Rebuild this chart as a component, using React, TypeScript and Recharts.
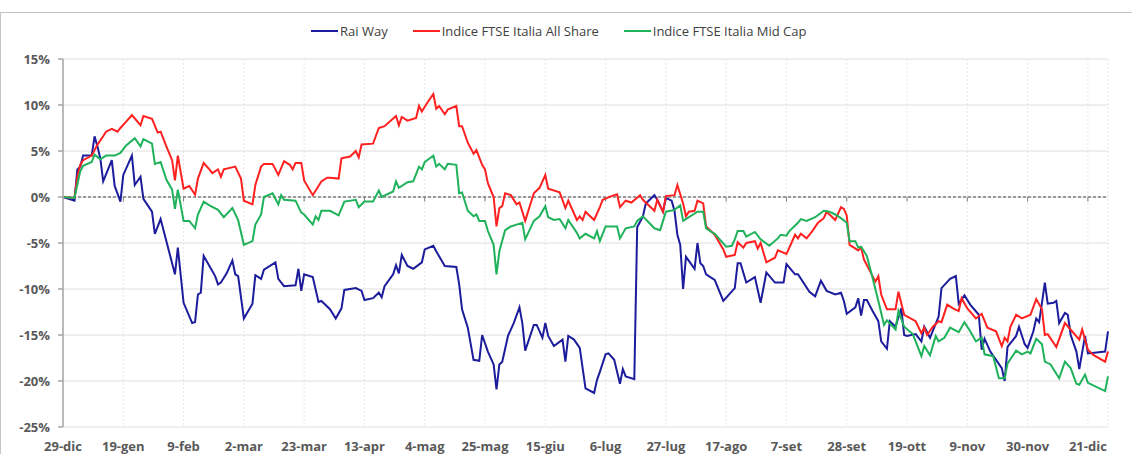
import { CartesianGrid, Line, LineChart, ReferenceLine, XAxis, YAxis } from "recharts";

// giorni dal 29-dic-2021, variazione % dal 29-dic
const xTickDays = [0, 21, 42, 63, 84, 105, 126, 147, 168, 189, 210, 231, 252, 273, 294, 315, 336, 357];
const xTickLabels = [
  "29-dic", "19-gen", "9-feb", "2-mar", "23-mar", "13-apr", "4-mag", "25-mag", "15-giu",
  "6-lug", "27-lug", "17-ago", "7-set", "28-set", "19-ott", "9-nov", "30-nov", "21-dic",
];
const yTicks = [-25, -20, -15, -10, -5, 0, 5, 10, 15];

const raiWay: [number, number][] = [
  [0, 0], [4, -0.4], [5, 3.0], [6, 3.3], [7, 4.5], [10, 4.5], [11, 6.6], [12, 5.5], [13, 4.2], [14, 1.7],
  [17, 4.0], [18, 1.2], [20, -0.5], [21, 2.4], [24, 4.5], [25, 1.3], [27, 2.2], [28, -0.2], [31, -1.6],
  [32, -4.0], [34, -2.4], [39, -8.4], [40, -5.5], [42, -11.5], [45, -13.7], [46, -13.6], [47, -10.6],
  [48, -10.4], [49, -6.4], [51, -7.5], [53, -8.6], [54, -9.5], [55, -9.3], [57, -8.3], [59, -6.9],
  [60, -8.4], [61, -8.6], [63, -13.2], [66, -11.6], [67, -8.5], [69, -8.9], [70, -7.9], [74, -7.1],
  [75, -8.9], [77, -9.7], [81, -9.6], [82, -7.8], [83, -10.2], [84, -8.4], [87, -8.7], [89, -11.4],
  [90, -11.3], [93, -12.2], [95, -13.2], [97, -12.1], [98, -10.1], [102, -9.9], [104, -10.2],
  [105, -11.2], [108, -11.0], [110, -10.4], [111, -10.9], [112, -9.7], [115, -8.4], [116, -7.4],
  [117, -8.3], [118, -6.3], [120, -7.5], [122, -7.8], [125, -7.1], [126, -5.7], [129, -5.3],
  [130, -5.9], [133, -7.5], [137, -7.6], [138, -9.5], [139, -12.2], [141, -14.2], [143, -17.7],
  [145, -17.8], [146, -15.0], [148, -16.8], [150, -18.2], [151, -20.9], [152, -18.2], [153, -17.9],
  [155, -15.1], [157, -13.7], [159, -12.0], [160, -13.7], [161, -16.7], [164, -13.9], [165, -13.9],
  [167, -15.3], [168, -13.7], [169, -15.1], [171, -16.2], [174, -15.5], [175, -17.9], [176, -15.1],
  [178, -15.5], [180, -16.4], [182, -20.8], [185, -21.3], [186, -19.9], [187, -19.0], [189, -17.1],
  [190, -17.0], [192, -17.7], [194, -20.3], [195, -18.7], [196, -19.5], [199, -19.8], [200, -3.3],
  [202, -2.1], [203, -0.7], [206, 0.2], [207, -0.3], [209, -1.6], [210, -0.1], [212, -0.4],
  [213, -1.5], [214, -4.1], [215, -5.2], [216, -10.0], [217, -6.5], [220, -7.8], [221, -5.0],
  [222, -7.2], [223, -7.5], [224, -8.4], [227, -9.0], [230, -11.3], [234, -9.9], [235, -7.2],
  [236, -7.2], [238, -9.3], [241, -8.7], [243, -11.5], [245, -8.2], [248, -9.3], [251, -9.3],
  [252, -7.3], [255, -8.4], [256, -8.4], [260, -10.3], [262, -10.8], [264, -9.1], [266, -10.2],
  [269, -10.6], [271, -10.4], [272, -11.3], [273, -12.7], [276, -12.0], [277, -11.0], [278, -12.9],
  [279, -11.2], [280, -11.2], [282, -12.4], [284, -13.5], [285, -15.7], [287, -16.5], [288, -13.5],
  [290, -14.1], [292, -12.1], [293, -15.0], [294, -15.1], [297, -14.9], [299, -15.7], [300, -14.1],
  [302, -15.3], [305, -13.0], [306, -9.9], [309, -8.9], [311, -8.6], [312, -11.6], [314, -10.7],
  [316, -11.7], [319, -12.8], [320, -16.6], [321, -15.4], [323, -16.8], [325, -17.7], [327, -18.6],
  [328, -20.0], [329, -16.3], [331, -15.5], [332, -15.1], [333, -14.1], [335, -16.0], [336, -16.4],
  [338, -14.6], [339, -13.2], [340, -13.6], [341, -11.5], [342, -9.3], [343, -11.6], [345, -11.5],
  [346, -11.3], [347, -13.7], [349, -12.6], [350, -12.8], [351, -15.0], [353, -16.8], [354, -18.7],
  [356, -15.1], [357, -17.0], [363, -16.8], [364, -14.6],
];

const ftseAllShare: [number, number][] = [
  [0, 0], [4, -0.1], [5, 2.2], [6, 3.5], [7, 4.0], [10, 4.5], [12, 5.7], [14, 6.6], [15, 7.1], [17, 7.4],
  [19, 7.1], [20, 7.5], [22, 8.2], [24, 8.9], [27, 7.8], [28, 8.8], [31, 8.5], [33, 7.0], [34, 7.1],
  [36, 5.5], [38, 4.0], [39, 1.8], [40, 4.5], [42, 0.9], [44, 1.2], [46, 0.25], [47, 2.0], [49, 3.7],
  [51, 3.0], [52, 2.6], [54, 3.0], [55, 2.2], [56, 3.0], [60, 3.3], [62, 2.0], [63, -0.4], [66, -0.8],
  [67, 1.3], [69, 3.3], [70, 3.6], [73, 3.6], [75, 2.4], [77, 3.9], [79, 3.5], [80, 3.0], [81, 3.7],
  [83, 3.7], [84, 1.8], [87, 0.2], [90, 1.7], [92, 2.1], [93, 2.1], [96, 2.0], [97, 4.2], [100, 4.4],
  [102, 5.0], [103, 4.3], [104, 5.7], [108, 5.8], [110, 7.5], [112, 7.7], [116, 8.8], [117, 7.8],
  [118, 8.7], [120, 8.3], [123, 8.6], [124, 9.9], [125, 9.3], [127, 10.3], [129, 11.2], [130, 9.6],
  [131, 9.9], [133, 9.0], [134, 9.5], [137, 9.9], [138, 7.7], [139, 7.7], [141, 5.9], [143, 4.7],
  [144, 5.1], [146, 3.5], [147, 3.0], [148, 1.5], [150, 0.0], [151, -3.2], [152, -1.2], [153, -1.0],
  [154, 0.4], [156, 0.2], [158, -0.8], [159, -0.6], [161, -2.6], [164, 0.4], [166, 1.0], [168, 2.4],
  [169, 0.9], [173, 0.5], [175, -1.2], [176, -0.4], [179, -2.5], [180, -2.1], [181, -2.5], [182, -1.6],
  [185, -2.5], [187, -1.1], [188, -0.3], [191, 0.1], [193, 0.3], [194, -1.1], [196, -0.4], [198, -0.6],
  [201, 0.2], [202, -0.3], [206, -1.5], [207, -0.3], [209, -1.6], [210, 0.1], [213, 0.2], [214, 1.3],
  [216, -0.7], [217, -2.1], [218, -1.6], [220, -1.5], [221, -0.4], [223, -0.7], [224, -3.2],
  [227, -4.1], [230, -5.7], [231, -6.5], [234, -6.3], [235, -4.9], [237, -5.5], [238, -5.0],
  [241, -4.8], [242, -5.6], [243, -5.0], [245, -7.1], [248, -6.6], [249, -5.8], [252, -6.2],
  [255, -4.1], [256, -4.5], [257, -4.0], [259, -4.5], [261, -3.7], [263, -2.8], [265, -2.3],
  [266, -1.6], [268, -2.2], [269, -2.5], [271, -1.1], [272, -1.3], [273, -2.0], [274, -5.2],
  [277, -5.8], [278, -5.5], [279, -6.8], [281, -8.0], [283, -9.2], [284, -8.6], [285, -10.6],
  [287, -12.2], [290, -12.2], [291, -10.3], [293, -12.8], [297, -13.5], [299, -14.8], [300, -14.2],
  [301, -15.0], [303, -14.1], [305, -13.5], [306, -13.6], [308, -11.7], [310, -12.1], [312, -12.4],
  [313, -11.0], [315, -12.1], [318, -13.2], [320, -12.7], [322, -14.2], [325, -14.6], [327, -16.2],
  [328, -15.3], [329, -15.7], [330, -14.1], [332, -12.8], [334, -13.2], [337, -12.8], [339, -11.1],
  [341, -12.2], [342, -15.0], [343, -14.9], [346, -16.3], [349, -13.7], [354, -15.5], [355, -14.4],
  [357, -16.6], [359, -17.2], [363, -17.9], [364, -16.8],
];

const ftseMidCap: [number, number][] = [
  [0, 0], [4, -0.1], [6, 2.8], [7, 3.4], [10, 3.8], [11, 4.6], [13, 4.1], [15, 4.5], [18, 4.5], [20, 4.8],
  [22, 5.6], [25, 6.4], [27, 5.5], [28, 6.3], [31, 5.8], [32, 3.6], [34, 3.8], [36, 1.9], [38, 0.8],
  [39, -1.3], [40, 0.8], [42, -2.6], [44, -2.6], [46, -3.4], [47, -1.9], [49, -0.5], [51, -0.9],
  [54, -1.4], [56, -2.2], [59, -1.2], [61, -2.5], [63, -5.2], [66, -4.8], [67, -3.0], [69, -1.9],
  [70, 0.0], [73, 0.4], [75, -0.8], [76, 0.2], [77, -0.3], [81, -0.4], [83, -1.7], [84, -1.9],
  [87, -3.0], [88, -2.1], [89, -2.5], [90, -1.5], [93, -1.5], [96, -2.0], [98, -0.5], [102, -0.3],
  [103, -1.1], [105, -0.5], [108, -0.5], [110, 0.7], [111, 0.0], [115, 0.6], [116, 1.7], [117, 1.0],
  [120, 1.6], [122, 1.7], [124, 3.3], [125, 3.0], [126, 3.8], [129, 4.5], [130, 3.3], [131, 3.6],
  [133, 3.0], [134, 3.6], [137, 3.5], [138, 0.4], [139, 0.5], [141, -1.5], [143, -2.1], [144, -1.9],
  [145, -2.6], [147, -2.6], [148, -3.7], [150, -5.2], [151, -8.4], [152, -5.9], [154, -3.6],
  [156, -3.2], [158, -3.0], [160, -2.8], [161, -4.6], [164, -2.6], [166, -2.1], [168, -1.0],
  [169, -2.2], [171, -2.5], [173, -2.4], [175, -3.4], [176, -2.5], [179, -3.9], [180, -4.5],
  [182, -4.0], [185, -4.5], [186, -3.7], [187, -4.8], [189, -3.2], [193, -3.2], [194, -4.5],
  [196, -3.4], [199, -3.2], [200, -2.6], [202, -2.1], [206, -3.4], [208, -3.6], [210, -1.6],
  [213, -1.4], [215, -0.9], [216, -2.6], [221, -1.6], [223, -1.6], [224, -3.4], [227, -4.0],
  [231, -5.4], [233, -5.3], [234, -4.6], [235, -3.7], [237, -3.7], [238, -4.3], [241, -3.8],
  [243, -4.6], [246, -5.3], [249, -4.5], [250, -4.1], [252, -4.2], [253, -3.7], [256, -2.8],
  [257, -2.4], [259, -2.6], [262, -2.2], [265, -1.5], [267, -1.6], [269, -1.9], [271, -2.3],
  [273, -2.8], [274, -4.8], [276, -4.8], [277, -5.5], [278, -5.4], [280, -6.4], [282, -8.8],
  [284, -11.3], [286, -13.9], [287, -13.4], [290, -14.4], [291, -12.4], [293, -14.1], [296, -14.9],
  [297, -15.7], [299, -17.3], [300, -16.2], [302, -17.2], [304, -15.1], [305, -15.7], [307, -15.3],
  [309, -14.2], [312, -14.7], [314, -13.6], [316, -14.6], [318, -15.7], [320, -15.3], [321, -17.1],
  [324, -17.3], [326, -19.7], [328, -19.7], [329, -18.1], [332, -16.7], [334, -17.1], [336, -16.8],
  [337, -17.0], [339, -15.4], [341, -16.0], [342, -17.9], [344, -18.2], [347, -19.7], [349, -17.9],
  [351, -18.6], [353, -20.3], [354, -20.4], [356, -19.3], [357, -20.2], [363, -21.1], [364, -19.5],
];

const seriesNames = ["Rai Way", "Indice FTSE Italia All Share", "Indice FTSE Italia Mid Cap"];
const seriesColors = ["#1c1c9c", "#ff2020", "#1fb25a"];
const seriesData = [raiWay, ftseAllShare, ftseMidCap];

const toPoints = (s: [number, number][]) => s.map(([giorno, valore]) => ({ giorno, valore }));

const FONT = "'Open Sans', 'DejaVu Sans', sans-serif";
const AXIS_TEXT = { fill: "#595959", fontSize: 13, fontWeight: 700, fontFamily: FONT };

function ChartLegend() {
  return (
    <div
      style={{
        position: "absolute",
        top: 22,
        left: 311,
        display: "flex",
        alignItems: "center",
        gap: 25,
        fontFamily: FONT,
        fontSize: 13,
        color: "#404040",
        whiteSpace: "nowrap",
      }}
    >
      {seriesNames.map((name, i) => (
        <div key={name} style={{ display: "flex", alignItems: "center" }}>
          <span style={{ width: 27, height: 2.5, background: seriesColors[i], marginRight: 2 }} />
          <span>{name}</span>
        </div>
      ))}
    </div>
  );
}

export default function App() {
  return (
    <div
      style={{
        position: "absolute",
        left: 0,
        top: 0,
        width: 1132,
        height: 454,
        background: "#fff",
        overflow: "hidden",
      }}
    >
      <div
        style={{
          position: "absolute",
          left: 0,
          top: 12,
          width: 1200,
          height: 500,
          borderTop: "1px solid #c4c4c4",
          borderLeft: "1px solid #c4c4c4",
        }}
      />
      <ChartLegend />
      <LineChart width={1132} height={454} margin={{ top: 59, right: 24, bottom: 0, left: 0 }}>
        <CartesianGrid vertical={false} stroke="#dedede" />
        <CartesianGrid horizontal={false} stroke="#e6e6e6" strokeDasharray="2 2" />
        <XAxis
          dataKey="giorno"
          type="number"
          domain={[0, 364]}
          ticks={xTickDays}
          interval={0}
          tickFormatter={(v: number) => xTickLabels[xTickDays.indexOf(v)] ?? ""}
          axisLine={false}
          tickLine={false}
          tickSize={6}
          tickMargin={9}
          height={27}
          tick={AXIS_TEXT}
        />
        <YAxis
          type="number"
          domain={[-25, 15]}
          ticks={yTicks}
          interval={0}
          tickFormatter={(v: number) => `${v}%`}
          width={63}
          axisLine={{ stroke: "#a6a6a6", strokeWidth: 1.5 }}
          tickLine={{ stroke: "#a6a6a6", strokeWidth: 1.5 }}
          tickSize={5}
          tickMargin={8}
          tick={AXIS_TEXT}
        />
        <ReferenceLine y={0} stroke="#7f7f7f" strokeWidth={1.3} strokeDasharray="3 2" />
        {xTickDays.slice(1).map((d) => (
          <ReferenceLine
            key={d}
            segment={[
              { x: d, y: 0 },
              { x: d, y: -0.5 },
            ]}
            stroke="#7f7f7f"
            strokeWidth={1}
          />
        ))}
        {seriesData.map((s, i) => (
          <Line
            key={seriesNames[i]}
            data={toPoints(s)}
            dataKey="valore"
            name={seriesNames[i]}
            type="linear"
            stroke={seriesColors[i]}
            strokeWidth={2}
            dot={false}
            activeDot={false}
            isAnimationActive={false}
          />
        ))}
      </LineChart>
    </div>
  );
}
